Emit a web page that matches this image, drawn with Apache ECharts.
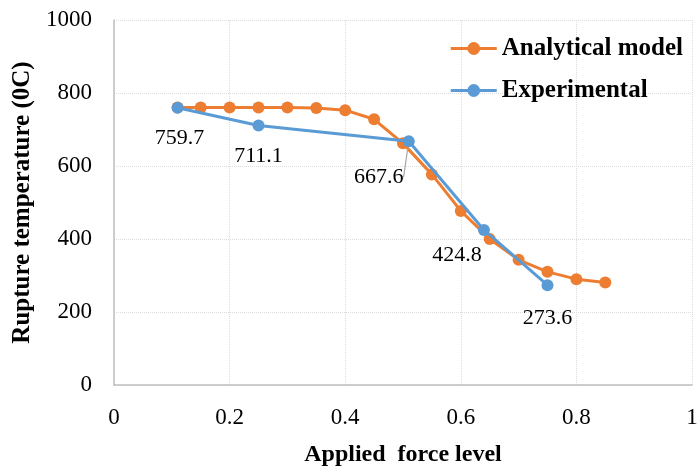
<!DOCTYPE html>
<html><head><meta charset="utf-8">
<script src="https://cdn.jsdelivr.net/npm/echarts@6/dist/echarts.min.js"></script>
<style>html,body{margin:0;padding:0;background:#fff}#c{width:698px;height:467px}</style>
</head><body><div id="c"></div>
<script>
const analyticalX = [0.11, 0.15, 0.2, 0.25, 0.3, 0.35, 0.4, 0.45, 0.5, 0.55, 0.6, 0.65, 0.7, 0.75, 0.8, 0.85];
const analyticalY = [760, 760, 760, 760, 760, 759, 753, 728, 662, 577, 477, 400, 343, 310, 290, 281];
const experimentalX = [0.11, 0.25, 0.51, 0.64, 0.75];
const experimentalY = [759.7, 711.1, 667.6, 424.8, 273.6];
const labelOffsets = [[2, 31], [0, 31], [-30, 36], [-27, 25], [0, 33]];
const leaderLine = [false, false, true, false, false];
const font = '"Liberation Serif", "Times New Roman", serif';

const chart = echarts.init(document.getElementById('c'));
chart.setOption({
  animation: false,
  textStyle: { fontFamily: font },
  grid: { left: 114, right: 6, top: 20, bottom: 82, containLabel: false, outerBoundsMode: 'none' },
  legend: {
    top: 31, right: 10, orient: 'vertical', itemGap: 17, itemWidth: 46, itemHeight: 16,
    textStyle: { fontFamily: font, fontWeight: 'bold', fontSize: 25, color: '#000' },
    lineStyle: { width: 3 },
    data: ['Analytical model', 'Experimental']
  },
  xAxis: {
    type: 'value', min: 0, max: 1, interval: 0.2,
    name: 'Applied  force level', nameLocation: 'middle', nameGap: 58,
    nameTextStyle: { fontFamily: font, fontWeight: 'bold', fontSize: 24, color: '#000' },
    axisLine: { lineStyle: { color: '#bfbfbf', width: 1.5 } },
    axisTick: { show: false },
    axisLabel: { fontSize: 23, color: '#000', margin: 21, fontFamily: font, formatter: v => String(v) },
    splitLine: { show: true, lineStyle: { color: '#dcdcdc', type: 'dotted' } }
  },
  yAxis: {
    type: 'value', min: 0, max: 1000, interval: 200,
    name: 'Rupture temperature (0C)', nameLocation: 'middle', nameGap: 78,
    nameTextStyle: { fontFamily: font, fontWeight: 'bold', fontSize: 25, color: '#000' },
    axisLine: { show: true, lineStyle: { color: '#bfbfbf', width: 1.5 } },
    axisTick: { show: false },
    axisLabel: { fontSize: 23, color: '#000', margin: 22, fontFamily: font, formatter: v => String(v) },
    splitLine: { show: true, lineStyle: { color: '#dcdcdc', type: 'dotted' } }
  },
  series: [
    {
      name: 'Analytical model', type: 'line',
      data: analyticalX.map((x, i) => [x, analyticalY[i]]),
      symbol: 'circle', symbolSize: 12,
      itemStyle: { color: '#ED7D31' },
      lineStyle: { color: '#ED7D31', width: 3 },
      z: 2
    },
    {
      name: 'Experimental', type: 'line',
      data: experimentalX.map((x, i) => ({
        value: [x, experimentalY[i]],
        labelLine: { show: leaderLine[i], lineStyle: { color: '#a6a6a6', width: 1.2 } }
      })),
      symbol: 'circle', symbolSize: 12,
      itemStyle: { color: '#5B9BD5' },
      lineStyle: { color: '#5B9BD5', width: 3 },
      label: {
        show: true, position: 'inside', fontSize: 22, color: '#000', fontFamily: font,
        formatter: p => p.value[1].toFixed(1)
      },
      labelLine: { show: false },
      labelLayout: p => ({ dx: labelOffsets[p.dataIndex][0], dy: labelOffsets[p.dataIndex][1] }),
      z: 3
    }
  ]
});
</script></body></html>
